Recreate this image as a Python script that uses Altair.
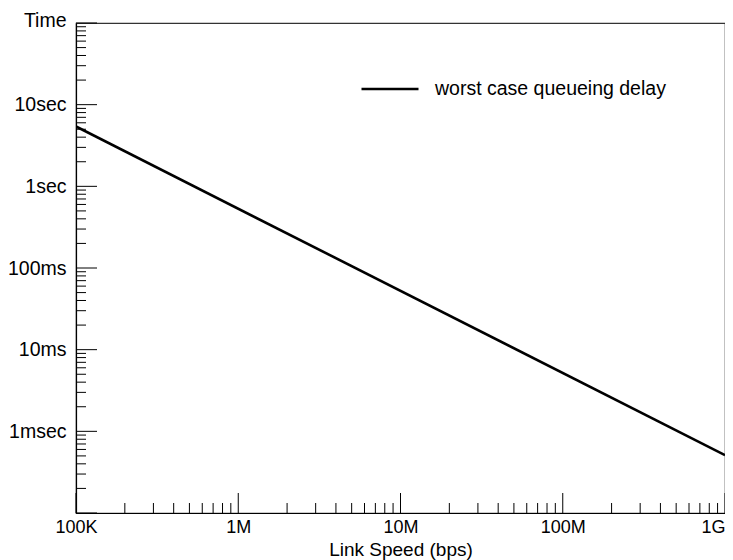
import altair as alt
import pandas as pd

# Data
speed_bps = [1e5, 1e9]
delay_sec = [5.4, 0.00051]
series_name = "worst case queueing delay"

x_tick_values = [1e5, 1e6, 1e7, 1e8, 1e9]
x_tick_labels = ["100K", "1M", "10M", "100M", "1G"]
y_tick_values = [1e-3, 1e-2, 1e-1, 1, 10]
y_tick_labels = ["1msec", "10ms", "100ms", "1sec", "10sec"]

x_domain = [1e5, 1e9]
y_domain = [1e-4, 100]

x_major = [1e5, 1e6, 1e7, 1e8, 1e9]
x_minor = [m * d for d in [1e5, 1e6, 1e7, 1e8] for m in range(2, 10)]
y_major = [1e-4, 1e-3, 1e-2, 1e-1, 1, 10, 100]
y_minor = [m * d for d in [1e-4, 1e-3, 1e-2, 1e-1, 1, 10] for m in range(2, 10)]

W, H = 649, 490
FONT = "Liberation Sans"
FS = 19.5


def label_expr(values, labels):
    expr = "''"
    for v, l in reversed(list(zip(values, labels))):
        expr = f"datum.value == {v!r} ? '{l}' : ({expr})"
    return expr


xscale = alt.Scale(type="log", domain=x_domain, nice=False)
yscale = alt.Scale(type="log", domain=y_domain, nice=False)

x_axis = alt.Axis(values=x_tick_values, labelExpr=label_expr(x_tick_values, x_tick_labels),
                  ticks=False, grid=False, domainColor="black", domainWidth=1.2,
                  labelPadding=5, labelFontSize=18, labelFont=FONT, labelColor="black",
                  labelFlush=False, labelOverlap=False,
                  labelAlign={"condition": {"test": f"datum.value >= {x_domain[1]!r}", "value": "right"},
                              "value": "center"},
                  title="Link Speed (bps)", titleFontSize=19, titleFont=FONT,
                  titleFontWeight="normal", titleColor="black", titlePadding=4)
y_axis = alt.Axis(values=y_tick_values, labelExpr=label_expr(y_tick_values, y_tick_labels),
                  ticks=False, grid=False, domainColor="black", domainWidth=1.2,
                  labelPadding=10, labelFontSize=FS, labelFont=FONT, labelColor="black",
                  labelOverlap=False, labelFlush=False,
                  title="Time", titleAngle=0, titleAlign="right", titleBaseline="alphabetic",
                  titleX=-10, titleY=3, titleFontSize=FS, titleFont=FONT,
                  titleFontWeight="normal", titleColor="black")

line_df = pd.DataFrame({"speed": speed_bps, "delay": delay_sec, "series": [series_name] * 2})

line = alt.Chart(line_df).mark_line(strokeWidth=2.6, clip=True).encode(
    x=alt.X("speed:Q", scale=xscale, axis=x_axis),
    y=alt.Y("delay:Q", scale=yscale, axis=y_axis),
    color=alt.Color("series:N", scale=alt.Scale(range=["black"]),
                    legend=alt.Legend(title=None, orient="none", legendX=284, legendY=36,
                                      symbolType="stroke", symbolSize=3249, symbolStrokeWidth=2.6,
                                      labelFontSize=FS, labelFont=FONT, labelColor="black",
                                      labelOffset=15, labelLimit=400)),
)

xmaj = alt.Chart(pd.DataFrame({"speed": x_major})).mark_rule(color="black", strokeWidth=1).encode(
    x=alt.X("speed:Q", scale=xscale, axis=x_axis), y=alt.value(H), y2=alt.value(H - 20))
xmin = alt.Chart(pd.DataFrame({"speed": x_minor})).mark_rule(color="black", strokeWidth=1).encode(
    x=alt.X("speed:Q", scale=xscale, axis=x_axis), y=alt.value(H), y2=alt.value(H - 10))
ymaj = alt.Chart(pd.DataFrame({"delay": y_major})).mark_rule(color="black", strokeWidth=1).encode(
    y=alt.Y("delay:Q", scale=yscale, axis=y_axis), x=alt.value(0), x2=alt.value(21))
ymin = alt.Chart(pd.DataFrame({"delay": y_minor})).mark_rule(color="black", strokeWidth=1).encode(
    y=alt.Y("delay:Q", scale=yscale, axis=y_axis), x=alt.value(0), x2=alt.value(10))

chart = alt.layer(xmin, xmaj, ymin, ymaj, line).properties(
    width=W, height=H,
    autosize=alt.AutoSizeParams(type="none"),
    padding={"left": 68, "top": 15, "right": 0, "bottom": 60},
    background="white",
).configure_view(stroke="#333", strokeWidth=1.2)

chart.save("out.html", embed_options={"renderer": "svg", "actions": False})
